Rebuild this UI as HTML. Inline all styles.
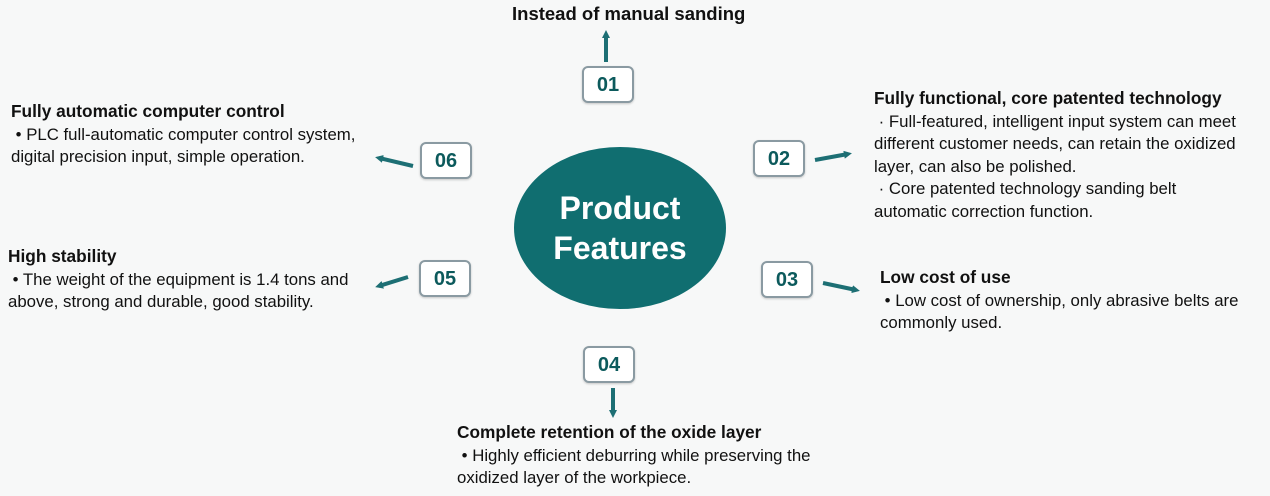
<!DOCTYPE html>
<html><head><meta charset="utf-8"><style>
body{margin:0;width:1270px;height:496px;background:#f7f8f8;position:relative;overflow:hidden;font-family:"Liberation Sans",sans-serif;}
.t{position:absolute;font-size:16.8px;line-height:22.5px;color:#111;white-space:nowrap;}
.h{font-weight:bold;font-size:17.3px;}
.box{position:absolute;width:52px;height:37px;border:2px solid #8a9aa2;border-radius:6px;background:#fff;box-sizing:border-box;color:#0c5a5c;font-weight:bold;font-size:20px;line-height:34px;text-align:center;box-shadow:0 1px 2px rgba(0,0,0,.2);}
</style></head><body>
<svg width="1270" height="496" style="position:absolute;left:0;top:0">
<defs><marker id="a" markerWidth="8" markerHeight="8" refX="4" refY="4" orient="auto" markerUnits="userSpaceOnUse"><path d="M0,0 L8,4 L0,8 z" fill="#1d6f74"/></marker></defs>
<g stroke="#1d6f74" stroke-width="4" marker-end="url(#a)">
<line x1="606" y1="62" x2="606" y2="34"/>
<line x1="413" y1="166" x2="379" y2="158"/>
<line x1="815" y1="160" x2="848" y2="154"/>
<line x1="408" y1="277" x2="379" y2="286"/>
<line x1="823" y1="283" x2="856" y2="290"/>
<line x1="613" y1="388" x2="613" y2="414"/>
</g>
<ellipse cx="620" cy="228" rx="106" ry="81" fill="#106e70"/>
<text x="620" y="219" text-anchor="middle" fill="#fff" font-weight="bold" font-size="32" font-family="Liberation Sans,sans-serif">Product</text>
<text x="620" y="259" text-anchor="middle" fill="#fff" font-weight="bold" font-size="32" font-family="Liberation Sans,sans-serif">Features</text>
</svg>
<div class="box" style="left:582px;top:66px">01</div>
<div class="box" style="left:420px;top:142px">06</div>
<div class="box" style="left:753px;top:140px">02</div>
<div class="box" style="left:419px;top:260px">05</div>
<div class="box" style="left:761px;top:261px">03</div>
<div class="box" style="left:583px;top:346px">04</div>
<div class="t h" style="left:512px;top:3px;font-size:18.5px">Instead of manual sanding</div>
<div class="t" style="left:11px;top:100px"><span class="h">Fully automatic computer control</span><br>&nbsp;• PLC full-automatic computer control system,<br>digital precision input, simple operation.</div>
<div class="t" style="left:8px;top:245px"><span class="h">High stability</span><br>&nbsp;• The weight of the equipment is 1.4 tons and<br>above, strong and durable, good stability.</div>
<div class="t" style="left:874px;top:87px"><span class="h">Fully functional, core patented technology</span><br>&nbsp;· Full-featured, intelligent input system can meet<br>different customer needs, can retain the oxidized<br>layer, can also be polished.<br>&nbsp;· Core patented technology sanding belt<br>automatic correction function.</div>
<div class="t" style="left:880px;top:266px"><span class="h">Low cost of use</span><br>&nbsp;• Low cost of ownership, only abrasive belts are<br>commonly used.</div>
<div class="t" style="left:457px;top:421px"><span class="h">Complete retention of the oxide layer</span><br>&nbsp;• Highly efficient deburring while preserving the<br>oxidized layer of the workpiece.</div>
</body></html>
